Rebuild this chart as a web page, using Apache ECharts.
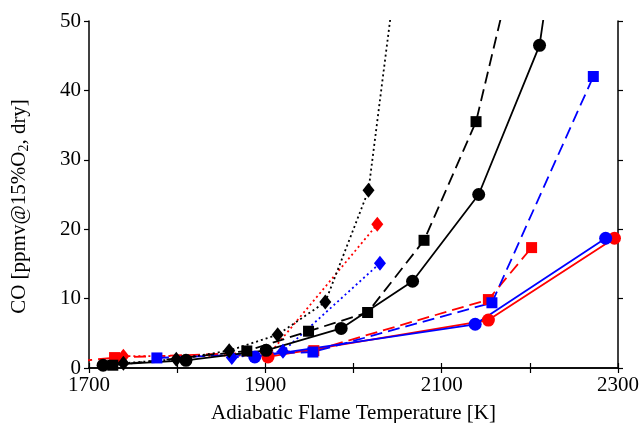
<!DOCTYPE html>
<html>
<head>
<meta charset="utf-8">
<script src="https://cdn.jsdelivr.net/npm/echarts@6/dist/echarts.min.js"></script>
<style>
html,body{margin:0;padding:0;background:#fff;}
#chart{width:641px;height:423px;}
</style>
</head>
<body>
<div id="chart"></div>
<script>
// Adiabatic flame temperature [K] and CO [ppmv] for each series
var blackSolidT = [1716, 1810, 1901, 1986, 2067, 2142, 2211, 2230];
var blackSolidCO = [0.4, 1.1, 2.55, 5.7, 12.5, 25.0, 46.5, 63.0];
var blackDashT = [1727, 1879, 1949, 2016, 2080, 2139, 2190];
var blackDashCO = [0.4, 2.45, 5.3, 8.0, 18.4, 35.5, 62.6];
var blackDotT = [1739, 1799, 1859, 1914, 1968, 2017, 2050];
var blackDotCO = [0.7, 1.25, 2.5, 4.8, 9.5, 25.6, 58.6];
var redDashT = [1690, 1729, 1955, 2153, 2202];
var redDashCO = [1.0, 1.5, 2.5, 9.86, 17.35];
var blueDashT = [1777, 1954, 2157, 2272];
var blueDashCO = [1.45, 2.3, 9.4, 42.0];
var redDotT = [1739, 1903, 2027];
var redDotCO = [1.7, 1.8, 20.7];
var blueDotT = [1862, 1920, 2030];
var blueDotCO = [1.5, 2.4, 15.1];
var redSolidT = [1903, 2153, 2296];
var redSolidCO = [1.6, 6.9, 18.7];
var blueSolidT = [1888, 2138, 2286];
var blueSolidCO = [1.6, 6.3, 18.7];

var xTickLabels = [1700, 1900, 2100, 2300];
var yTickLabels = [0, 10, 20, 30, 40, 50];

function pairs(t, c) { return t.map(function (v, i) { return [v, c[i]]; }); }

var FONT = 'Liberation Serif';
function mk(name, t, c, color, lineType, symbol, size) {
  return {
    name: name, type: 'line', data: pairs(t, c),
    symbol: symbol, symbolSize: size, showSymbol: true,
    clip: true,
    lineStyle: { color: color, width: 1.8, type: lineType },
    itemStyle: { color: color },
    emphasis: { disabled: true },
    animation: false
  };
}
var DASH = [12, 6], DOT = [2, 3];
var series = [
  mk('redDot', redDotT, redDotCO, '#ff0000', DOT, 'diamond', [12, 15]),
  mk('redDash', redDashT, redDashCO, '#ff0000', DASH, 'rect', 11),
  mk('redSolid', redSolidT, redSolidCO, '#ff0000', 'solid', 'circle', 13),
  mk('blueDot', blueDotT, blueDotCO, '#0000ff', DOT, 'diamond', [12, 15]),
  mk('blueDash', blueDashT, blueDashCO, '#0000ff', DASH, 'rect', 11),
  mk('blueSolid', blueSolidT, blueSolidCO, '#0000ff', 'solid', 'circle', 13),
  mk('blackDot', blackDotT, blackDotCO, '#000000', DOT, 'diamond', [12, 15]),
  mk('blackDash', blackDashT, blackDashCO, '#000000', DASH, 'rect', 11),
  mk('blackSolid', blackSolidT, blackSolidCO, '#000000', 'solid', 'circle', 13)
];

var axisLine = { show: true, lineStyle: { color: '#000', width: 1.5 } };
var axisTick = { show: true, inside: false, length: 5, lineStyle: { color: '#000', width: 1.2 } };

var chart = echarts.init(document.getElementById('chart'), null, { renderer: 'canvas' });
chart.setOption({
  backgroundColor: '#fff',
  animation: false,
  grid: { left: 89, right: 23, top: 21, bottom: 55, containLabel: false, outerBoundsMode: 'none' },
  xAxis: [{
    type: 'value', min: 1700, max: 2300, interval: 100, position: 'bottom',
    axisLine: axisLine, axisTick: axisTick, splitLine: { show: false },
    axisLabel: {
      color: '#000', fontFamily: FONT, fontSize: 21, margin: 7,
      formatter: function (v) { return xTickLabels.indexOf(v) >= 0 ? String(v) : ''; }
    },
    name: 'Adiabatic Flame Temperature [K]', nameLocation: 'middle', nameGap: 35,
    nameTextStyle: { color: '#000', fontFamily: FONT, fontSize: 21 }
  }, {
    type: 'value', min: 1700, max: 2300, interval: 100, position: 'top',
    axisLine: axisLine, axisTick: axisTick, splitLine: { show: false },
    axisLabel: { show: false }
  }],
  yAxis: [{
    type: 'value', min: 0, max: 50, interval: 10, position: 'left',
    axisLine: axisLine, axisTick: axisTick, splitLine: { show: false },
    axisLabel: {
      color: '#000', fontFamily: FONT, fontSize: 21, margin: 8,
      formatter: function (v) { return yTickLabels.indexOf(v) >= 0 ? String(v) : ''; }
    },
    name: '{a|CO [ppmv@15%O}{s|2}{a|, dry]}', nameLocation: 'middle', nameGap: 58, nameRotate: 90,
    nameTextStyle: {
      color: '#000', fontFamily: FONT, fontSize: 21, padding: [0, 24, 0, 0],
      rich: {
        a: { fontFamily: FONT, fontSize: 21, lineHeight: 24, verticalAlign: 'middle', color: '#000' },
        s: { fontFamily: FONT, fontSize: 14, lineHeight: 13, verticalAlign: 'bottom', color: '#000' }
      }
    }
  }, {
    type: 'value', min: 0, max: 50, interval: 10, position: 'right',
    axisLine: axisLine, axisTick: axisTick, splitLine: { show: false },
    axisLabel: { show: false }
  }],
  series: series
});
</script>
</body>
</html>
